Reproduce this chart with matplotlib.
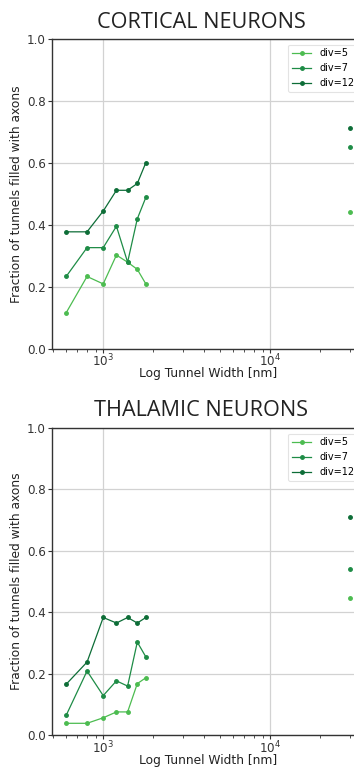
"""Axon filling fraction vs tunnel width for cortical and thalamic neurons."""

import matplotlib
matplotlib.use("Agg")
import matplotlib.pyplot as plt

# Tunnel widths (nm)
widths = [600, 800, 1000, 1200, 1400, 1600, 1800, 30000]

divs = ["div=5", "div=7", "div=12"]
colors = ["#4cbc50", "#1e8c46", "#0d6d37"]

cortical = {
    "div=5": [0.116, 0.233, 0.209, 0.302, 0.279, 0.256, 0.209, 0.442],
    "div=7": [0.233, 0.326, 0.326, 0.395, 0.279, 0.419, 0.488, 0.651],
    "div=12": [0.377, 0.377, 0.444, 0.511, 0.511, 0.533, 0.600, 0.711],
}
thalamic = {
    "div=5": [0.039, 0.039, 0.057, 0.076, 0.076, 0.168, 0.187, 0.445],
    "div=7": [0.065, 0.209, 0.129, 0.177, 0.160, 0.303, 0.255, 0.540],
    "div=12": [0.166, 0.238, 0.383, 0.365, 0.383, 0.365, 0.383, 0.710],
}

W, H = 354, 767


def draw_panel(ax, data, height_px):
    for lab, col in zip(divs, colors):
        y = data[lab]
        # connected points for the narrow tunnels, lone point for the wide one
        ax.plot(widths[:-1], y[:-1], color=col, lw=0.9, marker="o", ms=2.5,
                mec=col, label=lab)
        ax.plot(widths[-1:], y[-1:], color=col, lw=0, marker="o", ms=2.5, mec=col)
    ax.set_xscale("log")
    ax.set_ylim(0, 1.0)
    ax.set_yticks([0.0, 0.2, 0.4, 0.6, 0.8, 1.0])
    ax.grid(True, which="major", color="#d2d2d2", lw=0.9)
    ax.set_axisbelow(True)
    for side in ["left", "bottom", "top"]:
        ax.spines[side].set_color("#333333")
        ax.spines[side].set_linewidth(1.0)
    ax.tick_params(labelsize=8.6, colors="#333333", length=3, width=0.8, pad=1.5)
    ax.tick_params(axis="x", pad=0)
    ax.tick_params(which="minor", length=2, width=0.6, colors="#333333")
    ax.set_xlabel("Log Tunnel Width [nm]", fontsize=8.8, color="#222222", va="center")
    ax.xaxis.set_label_coords(0.5, -25 / height_px)
    ax.set_ylabel("Fraction of tunnels filled with axons", fontsize=8.8,
                  color="#222222", labelpad=3)
    leg = ax.legend(loc="upper right", fontsize=7, frameon=True, borderaxespad=0.6)
    leg.get_frame().set_edgecolor("#dddddd")
    leg.get_frame().set_linewidth(0.8)


fig = plt.figure(figsize=(W / 100, H / 100), dpi=100)

left = 52 / W
width = (364 - 52) / W

ax_top = fig.add_axes([left, 1 - 348.7 / H, width, 310 / H])
draw_panel(ax_top, cortical, 310)

ax_bot = fig.add_axes([left, 1 - 735.3 / H, width, 307.6 / H])
draw_panel(ax_bot, thalamic, 307.6)

fig.text(201 / W, 1 - 28.5 / H, "CORTICAL NEURONS", family="Open Sans",
         fontsize=15.6, color="#222222", ha="center", va="baseline")
fig.text(201 / W, 1 - 416 / H, "THALAMIC NEURONS", family="Open Sans",
         fontsize=15.6, color="#222222", ha="center", va="baseline")

fig.savefig("out.png", dpi=100)
